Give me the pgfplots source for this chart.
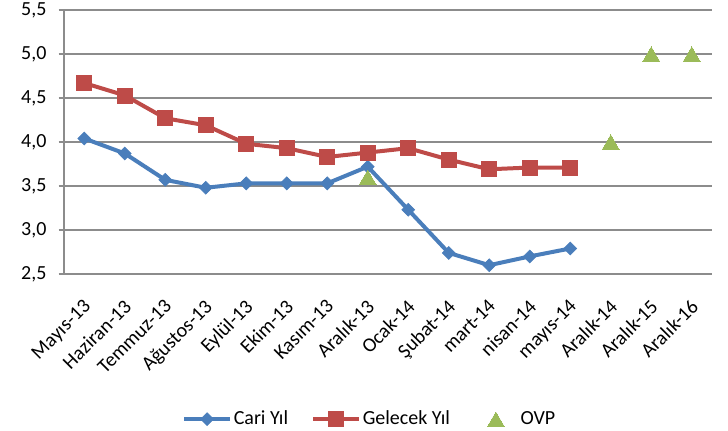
\documentclass[border=0pt]{standalone}
\usepackage{pgfplots}
\pgfplotsset{compat=1.18}
\usepackage{fontspec}
\setmainfont{Carlito}
\definecolor{cblue}{HTML}{4A7EBB}
\definecolor{cred}{HTML}{BE4B48}
\definecolor{cgreen}{HTML}{9BBB59}
\definecolor{cgrid}{HTML}{8C8C8C}
\pgfplotsset{
  linemarklegend/.style={legend image code/.code={\draw[##1] (0pt,0pt) -- (34pt,0pt); \draw[##1] plot coordinates {(17pt,0pt)};}},
  onlymarklegend/.style={legend image code/.code={\path[draw=none,fill=none] (0pt,0pt) -- (34pt,0pt); \draw[##1] plot coordinates {(17pt,0pt)};}},
}
\begin{document}
\begin{tikzpicture}
\fontsize{15}{18}\selectfont
\path[use as bounding box] (-48pt,-117pt) rectangle (498pt,205.5pt);
\begin{axis}[
  at={(0pt,0pt)}, anchor=south west,
  scale only axis, width=486pt, height=198pt,
  xmin=-0.5, xmax=15.5, ymin=2.5, ymax=5.5,
  axis x line*=bottom, axis y line*=left,
  axis line style={cgrid, line width=0.8pt},
  ytick={2.5,3,...,5.5},
  ymajorgrids, grid style={cgrid, line width=0.8pt},
  xtick={0,...,15},
  xticklabels={Mayıs-13,Haziran-13,Temmuz-13,Ağustos-13,Eylül-13,Ekim-13,Kasım-13,Aralık-13,Ocak-14,Şubat-14,mart-14,nisan-14,mayıs-14,Aralık-14,Aralık-15,Aralık-16},
  xtick style={draw=none},
  minor xtick={-0.5,0.5,...,15.5},
  minor tick length=4pt,
  tick align=outside,
  major tick length=4pt,
  every tick/.style={cgrid, line width=0.8pt},
  xticklabel style={font=\fontsize{15}{18}\selectfont, xshift=-1.5pt, yshift=-7pt, rotate=45, anchor=north east},
  yticklabel style={font=\fontsize{15}{18}\selectfont, xshift=-4pt},
  /pgf/number format/.cd, use comma, fixed, fixed zerofill, precision=1, assume math mode=true,
  /pgfplots/.cd,
  legend columns=3,
  legend style={draw=none, fill=none, at={(axis description cs:0.472,-0.55)}, anchor=center,
    font=\fontsize{15}{18}\selectfont,
    nodes={inner xsep=1.5pt},
    /tikz/every even column/.append style={column sep=16pt}},
]
\addplot[cblue, line width=3pt, mark=square*, mark size=3.4pt, mark options={rotate=45, solid, line width=0.5pt}, linemarklegend] coordinates {
(0,4.04) (1,3.87) (2,3.57) (3,3.48) (4,3.53) (5,3.53) (6,3.53) (7,3.72) (8,3.23) (9,2.74) (10,2.60) (11,2.70) (12,2.79)};
\addlegendentry{Cari Yıl}
\addplot[cred, line width=3pt, mark=square*, mark size=5.6pt, mark options={solid, line width=0.5pt}, linemarklegend] coordinates {
(0,4.67) (1,4.53) (2,4.27) (3,4.19) (4,3.98) (5,3.93) (6,3.83) (7,3.88) (8,3.93) (9,3.80) (10,3.69) (11,3.71) (12,3.71)};
\addlegendentry{Gelecek Yıl}
\addplot[only marks, cgreen, mark=triangle*, mark size=7.2pt, mark options={yshift=-1.8pt, line width=0pt}, onlymarklegend] coordinates {
(7,3.6) (13,4.0) (14,5.0) (15,5.0)};
\addlegendentry{OVP}
\end{axis}
\end{tikzpicture}
\end{document}
